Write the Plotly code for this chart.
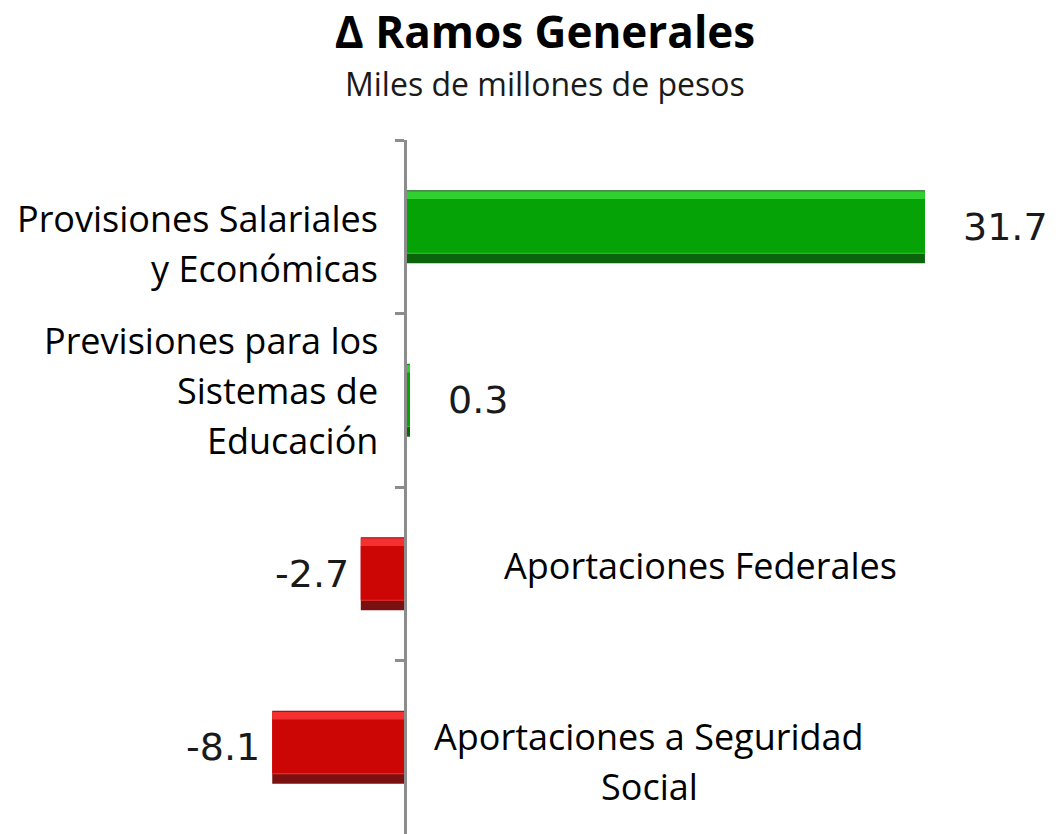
import plotly.graph_objects as go

# data
categories = [
    "Provisiones Salariales y Económicas",
    "Previsiones para los Sistemas de Educación",
    "Aportaciones Federales",
    "Aportaciones a Seguridad Social",
]
values = [31.7, 0.3, -2.7, -8.1]
label_lines = [
    ["Provisiones Salariales", "y Económicas"],
    ["Previsiones para los", "Sistemas de", "Educación"],
    ["Aportaciones Federales"],
    ["Aportaciones a Seguridad", "Social"],
]
title = "Δ Ramos Generales"
subtitle = "Miles de millones de pesos"

# style
W, H = 1064, 834
TOP = 140
FONT = "Open Sans"
NUM_FONT = "DejaVu Sans"
x_range = [-24.70, 40.18]
zero_pos = -x_range[0] / (x_range[1] - x_range[0])
label_dy = [17, -10, -8, 14]   # block offset, px downward
line_gap = 50

pos_c = {"dark": "#0b640b", "light": "#2fd02f", "main": "#05a305"}
neg_c = {"dark": "#7a1010", "light": "#f53030", "main": "#cc0505"}


def shade(key):
    return [pos_c[key] if v >= 0 else neg_c[key] for v in values]


fig = go.Figure()
# bevelled bars: dark base, light top stripe, main face
for key, off, w in [("dark", -0.21, 0.42), ("light", -0.205, 0.36), ("main", -0.16, 0.31)]:
    fig.add_trace(go.Bar(
        x=values, y=categories, orientation="h",
        marker=dict(color=shade(key), line=dict(width=0)),
        offset=off, width=w, showlegend=False,
    ))

annotations = []
for cat, v, lines, dy in zip(categories, values, label_lines, label_dy):
    # value label
    annotations.append(dict(
        x=v, y=cat, xref="x", yref="y", text=f"{v:.1f}", showarrow=False,
        xanchor="left" if v >= 0 else "right", xshift=36 if v >= 0 else -10,
        font=dict(family=NUM_FONT, size=38, color="#1a1a1a"),
    ))
    # category label, opposite side of the bar
    n = len(lines)
    for i, ln in enumerate(lines):
        off = dy + (i - (n - 1) / 2) * line_gap
        annotations.append(dict(
            x=0, y=cat, xref="x", yref="y", text=ln, showarrow=False,
            xanchor="right" if v >= 0 else "center",
            xshift=-25 if v >= 0 else (295 if n == 1 else 244),
            yshift=-off,
            font=dict(family=FONT, size=36, color="#000000"),
        ))

annotations.append(dict(
    x=545 / W, y=1 + (TOP - 83) / (H - TOP), xref="paper", yref="paper", text=subtitle,
    showarrow=False, yanchor="middle", font=dict(family=FONT, size=32, color="#1a1a1a"),
))

fig.update_layout(
    width=W, height=H,
    margin=dict(l=0, r=0, t=TOP, b=0, autoexpand=False),
    paper_bgcolor="white", plot_bgcolor="white",
    barmode="overlay",
    title=dict(text=f"<b>{title}</b>", x=545 / W, xanchor="center",
               y=1 - 33 / H, yanchor="middle",
               font=dict(family=FONT, size=44, color="#000000")),
    xaxis=dict(range=x_range, visible=False, showgrid=False, zeroline=False,
               automargin=False),
    yaxis=dict(
        categoryorder="array", categoryarray=categories, autorange="reversed",
        anchor="free", position=zero_pos, automargin=False,
        showline=True, linecolor="#8c8c8c", linewidth=3,
        ticks="outside", tickson="boundaries", ticklen=9, tickwidth=3,
        tickcolor="#8c8c8c", showticklabels=False, showgrid=False,
    ),
    annotations=annotations,
)

# drop the default page margin so the figure fills the window
fig.write_html("out.html", config={"displayModeBar": False},
               post_script="document.body.style.margin = '0';")
